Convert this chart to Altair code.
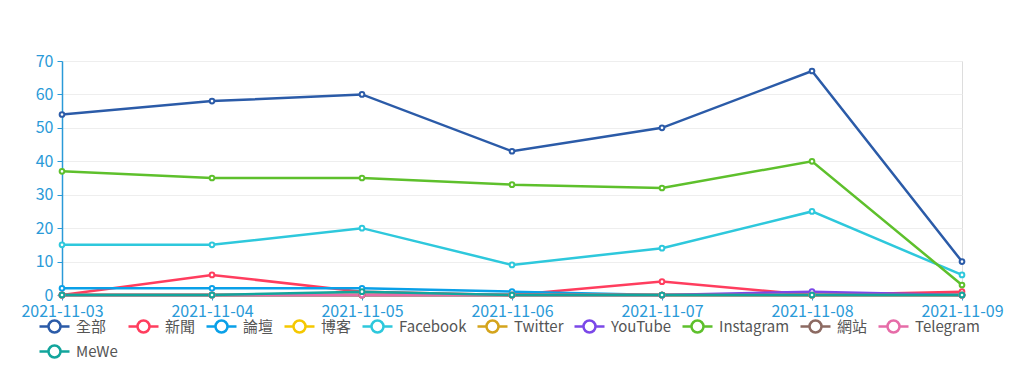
import altair as alt
import pandas as pd

dates = ["2021-11-03", "2021-11-04", "2021-11-05", "2021-11-06", "2021-11-07", "2021-11-08", "2021-11-09"]
series_names = ["全部", "新聞", "論壇", "博客", "Facebook", "Twitter", "YouTube", "Instagram", "網站", "Telegram", "MeWe"]
colors = ["#2b5ba8", "#ff3d5e", "#0aa0e8", "#f5c800", "#2ec8dc", "#d4a41c", "#7b48e8", "#5ec02c", "#8c6a62", "#e66ca8", "#12a59c"]

all_ = [54, 58, 60, 43, 50, 67, 10]
news = [0, 6, 1, 0, 4, 0, 1]
forum = [2, 2, 2, 1, 0, 0, 0]
blog = [0, 0, 0, 0, 0, 0, 0]
facebook = [15, 15, 20, 9, 14, 25, 6]
twitter = [0, 0, 0, 0, 0, 0, 0]
youtube = [0, 0, 0, 0, 0, 1, 0]
instagram = [37, 35, 35, 33, 32, 40, 3]
website = [0, 0, 0, 0, 0, 0, 0]
telegram = [0, 0, 0, 0, 0, 0, 0]
mewe = [0, 0, 1, 0, 0, 0, 0]

values = [all_, news, forum, blog, facebook, twitter, youtube, instagram, website, telegram, mewe]

rows = []
for i, (name, vals) in enumerate(zip(series_names, values)):
    for d, v in zip(dates, vals):
        rows.append({"date": d, "series": name, "value": v, "order": i})
df = pd.DataFrame(rows)

axis_blue = "#2a9ad8"

x = alt.X("date:N", title=None, sort=dates,
          scale=alt.Scale(type="point", padding=0),
          axis=alt.Axis(labelAngle=0, labelColor=axis_blue, labelFontSize=16,
                        domainColor=axis_blue, tickColor=axis_blue, tickSize=5,
                        labelPadding=3, domainWidth=1.5, grid=False))
y = alt.Y("value:Q", title=None,
          scale=alt.Scale(domain=[0, 70], nice=False),
          axis=alt.Axis(values=[0, 10, 20, 30, 40, 50, 60, 70], labelColor=axis_blue,
                        labelFontSize=16, domainColor=axis_blue, domainWidth=1.5,
                        tickColor=axis_blue, tickSize=5, labelPadding=4,
                        gridColor="#eeeeee", gridWidth=1.2))
scale = alt.Scale(domain=series_names, range=colors)
legend = alt.Legend(title=None, orient="none", legendX=-24, legendY=249,
                    direction="horizontal", columns=10, gridAlign="none",
                    symbolType="M-1,0H-0.4M0.4,0A0.4,0.4,0,1,1,-0.4,0A0.4,0.4,0,1,1,0.4,0M0.4,0H1",
                    symbolSize=900, symbolStrokeWidth=2.5, symbolFillColor="white",
                    labelFontSize=15, labelColor="#555555", labelOffset=5,
                    columnPadding=5, rowPadding=-3)
color = alt.Color("series:N", sort=series_names, scale=scale, legend=legend)

base = alt.Chart(df)
lines = base.mark_line(strokeWidth=2.5).encode(
    x=x, y=y, order="order:Q", detail="series:N", color=color)
points = base.mark_point(filled=False, size=22, fill="white", fillOpacity=1, strokeWidth=2, opacity=1).encode(
    x=x, y=y, color=color)

chart = alt.layer(lines, points).properties(
    width=900, height=234,
    padding={"left": 54, "top": 53, "right": 54, "bottom": 75},
    autosize=alt.AutoSizeParams(type="none"),
).configure_view(stroke=None).configure(font="Noto Sans CJK TC")

chart.save("out.html", embed_options={"renderer": "svg", "actions": False})
